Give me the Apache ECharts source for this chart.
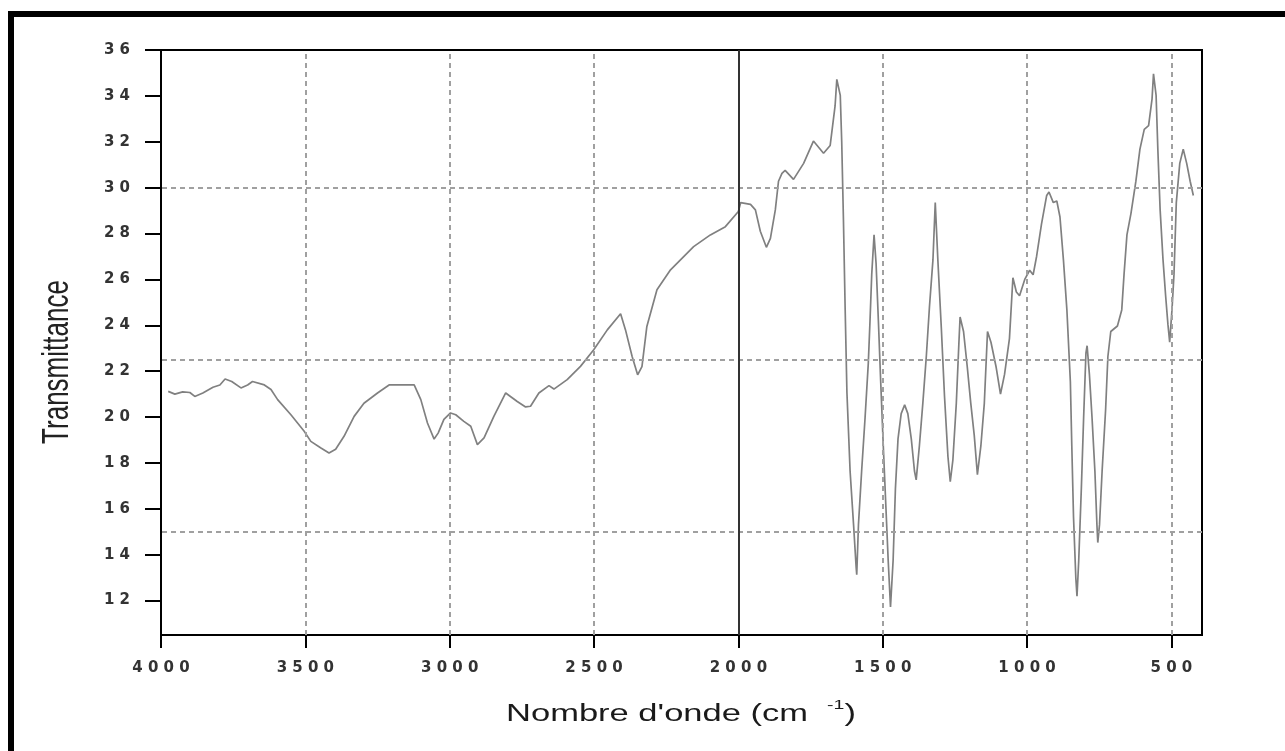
<!DOCTYPE html>
<html>
<head>
<meta charset="utf-8">
<script src="https://cdn.jsdelivr.net/npm/echarts@6/dist/echarts.min.js"></script>
<style>
html,body{margin:0;padding:0;background:#fff;}
#chart{width:1285px;height:751px;}
</style>
</head>
<body>
<div id="chart"></div>
<script>
// ---- data ----
const wavenumbers = [
  3975,3952,3925,3900,3883,3855,3820,3796,3778,3755,3723,3700,3683,3642,3619,3596,3550,3504,3481,3446,
  3418,3395,3366,3331,3297,3250,3210,3123,3100,3077,3054,3040,3020,2997,2979,2951,2927,2904,2881,2847,
  2806,2766,2737,2720,2691,2656,2639,2593,2547,2501,2454,2408,2391,2368,2349,2334,2317,2282,2235,2155,
  2097,2045,2000,1992,1958,1941,1924,1903,1889,1872,1861,1849,1838,1809,1774,1740,1705,1682,1665,1659,
  1647,1642,1636,1630,1624,1613,1601,1592,1590,1584,1573,1561,1550,1544,1538,1530,1523,1515,1507,1498,
  1489,1481,1473,1464,1456,1447,1436,1424,1413,1401,1390,1384,1373,1361,1349,1338,1326,1318,1309,1297,
  1286,1274,1266,1257,1245,1236,1232,1220,1207,1195,1183,1172,1160,1148,1137,1125,1107,1092,1078,1061,
  1049,1037,1026,1008,991,979,967,950,932,924,909,897,886,874,862,850,845,839,831,827,
  821,812,804,796,792,784,775,765,758,755,749,740,728,720,710,687,672,664,654,640,
  623,609,594,579,567,562,553,547,539,529,520,512,506,498,491,483,471,459,447,435,424
];
const transmittance = [
  21.12,21.0,21.1,21.07,20.9,21.05,21.3,21.4,21.66,21.55,21.27,21.4,21.55,21.4,21.2,20.76,20.1,19.38,18.94,18.65,
  18.43,18.6,19.16,20.03,20.6,21.05,21.4,21.4,20.76,19.74,19.04,19.3,19.9,20.18,20.1,19.81,19.6,18.8,19.09,20.03,
  21.05,20.68,20.44,20.47,21.05,21.37,21.22,21.63,22.21,22.93,23.8,24.5,23.8,22.64,21.84,22.2,23.95,25.55,26.42,27.43,
  27.94,28.3,28.96,29.35,29.27,29.03,28.1,27.4,27.79,29.03,30.28,30.62,30.75,30.36,31.06,32.03,31.5,31.84,33.56,34.72,
  34.02,32.0,28.57,24.67,21.08,17.65,15.31,13.44,13.13,15.31,17.65,19.99,22.33,24.2,26.23,27.94,26.7,24.2,21.55,18.74,
  16.09,13.75,11.72,13.75,16.87,19.05,20.15,20.53,20.15,19.05,17.65,17.26,18.74,20.61,22.64,24.82,26.85,29.35,26.85,23.89,
  20.92,18.27,17.18,18.12,20.61,23.26,24.36,23.73,22.17,20.61,19.21,17.49,18.74,20.61,23.73,23.26,22.17,21.0,21.86,23.42,
  26.07,25.45,25.29,26.0,26.4,26.2,27.0,28.41,29.66,29.81,29.35,29.42,28.72,26.85,24.67,21.55,18.74,15.62,12.97,12.19,
  13.75,16.87,19.99,22.8,23.11,21.86,19.99,17.65,15.31,14.53,15.31,17.65,20.3,22.64,23.73,23.97,24.67,26.23,27.94,28.88,
  30.28,31.68,32.54,32.7,33.87,34.96,34.02,31.68,29.03,26.85,25.29,24.04,23.26,24.67,26.23,29.35,31.06,31.68,31.06,30.28,29.66
];
const xTickValues = [4000,3500,3000,2500,2000,1500,1000,500];
const yTickValues = [12,14,16,18,20,22,24,26,28,30,32,34,36];
const xGridValues = [3500,3000,2500,1500,1000,500];
const yGridValues = [30,22.5,15];
const markerWavenumber = 2000;
const xAxisTitle = "Nombre d'onde (cm";
const xAxisTitleSup = "-1";
const yAxisTitle = "Transmittance";

const spectrum = wavenumbers.map((w, i) => [w, transmittance[i]]);
const spaced = v => String(v).split('').join(' ');

const chart = echarts.init(document.getElementById('chart'), null, {renderer: 'canvas'});
const tickFont = {fontFamily: 'DejaVu Sans', fontSize: 15, fontWeight: 'bold', color: '#333'};

chart.setOption({
  animation: false,
  backgroundColor: '#fff',
  grid: {left: 161, right: 83, top: 50, bottom: 116, show: true, borderColor: '#000', borderWidth: 2, backgroundColor: 'transparent'},
  xAxis: {
    type: 'value', inverse: true, min: 394, max: 4000,
    axisLine: {show: true, onZero: false, lineStyle: {color: '#000', width: 2}},
    axisTick: {show: true, inside: false, length: 13, customValues: xTickValues, lineStyle: {color: '#000', width: 2}},
    axisLabel: Object.assign({show: true, margin: 26, customValues: xTickValues, formatter: spaced, verticalAlign: 'top'}, tickFont),
    splitLine: {show: false}
  },
  yAxis: {
    type: 'value', min: 10.5, max: 36,
    axisLine: {show: true, onZero: false, lineStyle: {color: '#000', width: 2}},
    axisTick: {show: true, inside: false, length: 16, customValues: yTickValues, lineStyle: {color: '#000', width: 2}},
    axisLabel: Object.assign({show: true, margin: 31, customValues: yTickValues, formatter: spaced}, tickFont),
    splitLine: {show: false}
  },
  series: [
    {
      type: 'line', data: [], silent: true,
      markLine: {
        silent: true, symbol: 'none', label: {show: false}, animation: false,
        lineStyle: {color: '#a0a0a0', width: 2, type: [5, 4]},
        data: xGridValues.map(v => ({xAxis: v})).concat(yGridValues.map(v => ({yAxis: v})))
      }
    },
    {
      type: 'line', data: [], silent: true,
      markLine: {
        silent: true, symbol: 'none', label: {show: false}, animation: false,
        lineStyle: {color: '#333', width: 2, type: 'solid'},
        data: [{xAxis: markerWavenumber}]
      }
    },
    {
      type: 'line', data: spectrum, showSymbol: false, symbol: 'none', silent: true,
      lineStyle: {color: '#808080', width: 1.7}
    }
  ],
  graphic: [
    {type: 'rect', silent: true, shape: {x: 8, y: 11, width: 1277, height: 6}, style: {fill: '#000'}},
    {type: 'rect', silent: true, shape: {x: 8, y: 11, width: 6, height: 740}, style: {fill: '#000'}},
    {
      type: 'text', silent: true, x: 58, y: 362, rotation: Math.PI / 2, scaleY: 1.45,
      style: {text: yAxisTitle, fontFamily: 'Liberation Sans', fontSize: 26, fill: '#222', align: 'center', verticalAlign: 'middle'}
    },
    {
      type: 'text', silent: true, x: 681, y: 715, scaleX: 1.5,
      style: {
        text: '{a|' + xAxisTitle + '  }{b|' + xAxisTitleSup + '}{a|)}',
        align: 'center', verticalAlign: 'middle',
        rich: {
          a: {fontFamily: 'Liberation Sans', fontSize: 23, fill: '#1a1a1a', lineHeight: 32},
          b: {fontFamily: 'Liberation Sans', fontSize: 13, fill: '#1a1a1a', lineHeight: 13, verticalAlign: 'top'}
        }
      }
    }
  ]
});
</script>
</body>
</html>
